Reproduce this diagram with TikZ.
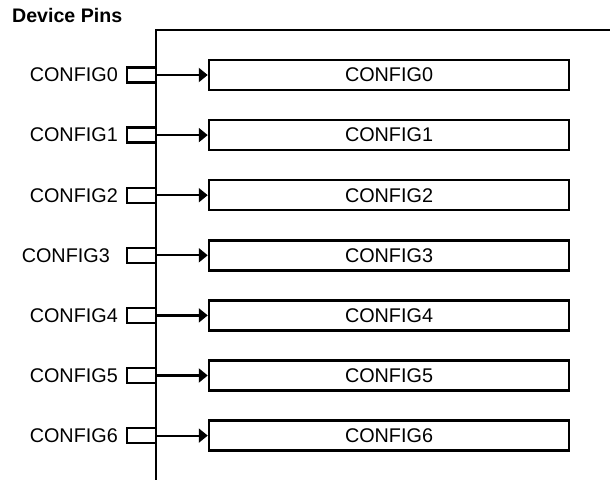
\documentclass[tikz,border=0pt]{standalone}
\usepackage{fontspec}
\setmainfont{Liberation Sans}
\usetikzlibrary{arrows.meta}
\begin{document}
\begin{tikzpicture}[x=1pt,y=-1pt,
  lbl/.style={font=\fontsize{19.8}{24}\selectfont, inner sep=0pt, anchor=east},
  pin/.style={draw, line width=2.3pt, minimum width=29pt, minimum height=15pt, inner sep=0pt},
  reg/.style={draw, line width=2.5pt, minimum width=360pt, minimum height=30pt, inner sep=0pt, font=\fontsize{19.8}{24}\selectfont},
  conn/.style={line width=2.2pt, -{Triangle[length=9pt,width=14pt]}}]
\useasboundingbox (0,0) rectangle (610,479);
\node[anchor=base west, inner sep=0pt, font=\bfseries\fontsize{19.6}{24}\selectfont] (title) at (12,23) {Device Pins};
\coordinate (ftop) at (156,30);
\coordinate (fright) at (611,30);
\coordinate (fbot) at (156,480);
\foreach \i in {0,...,6} {
  \pgfmathsetmacro{\yy}{75+60.1*\i}
  \node[pin] (p\i) at (141.5,\yy) {};
  \node[reg] (r\i) at (389,\yy) {CONFIG\i};
  \draw[conn] (p\i.east) -- (r\i.west);
}
\foreach \i in {0,1,2,4,5,6} {
  \node[lbl] (l\i) at (118,{75+60.1*\i}) {CONFIG\i};
}
\node[lbl] (l3) at (110,{75+60.1*3}) {CONFIG3};
\draw[line width=2.2pt] (fright) -- (ftop) -- (fbot);
\end{tikzpicture}
\end{document}
